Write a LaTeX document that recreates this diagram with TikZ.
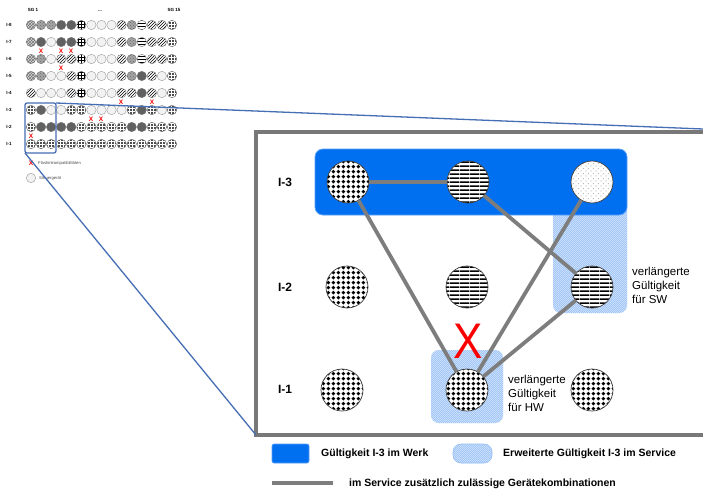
\documentclass[tikz,border=0pt]{standalone}
\usepackage{fontspec}
\setmainfont{Liberation Sans}
\usetikzlibrary{patterns,patterns.meta}

\definecolor{werkblue}{RGB}{0,112,240}
\definecolor{werkedge}{RGB}{90,160,250}
\definecolor{svcblue}{RGB}{150,192,245}
\definecolor{svclight}{RGB}{210,228,252}
\definecolor{linegray}{RGB}{125,125,125}
\definecolor{zoomblue}{RGB}{70,110,180}
\definecolor{framegray}{RGB}{120,120,120}
\definecolor{circedge}{RGB}{60,60,60}
\definecolor{xred}{RGB}{250,0,0}

\tikzdeclarepattern{
  name=bigdots,
  type=uncolored,
  bounding box={(0pt,0pt) and (4.8pt,4.8pt)},
  tile size={(4.8pt,4.8pt)},
  code={\pgfpathcircle{\pgfpoint{2.4pt}{2.4pt}}{1.95pt}\pgfusepath{fill}}
}
\tikzdeclarepattern{
  name=hstripes,
  type=uncolored,
  bounding box={(0pt,0pt) and (10pt,4.2pt)},
  tile size={(10pt,4.2pt)},
  code={\pgfpathrectangle{\pgfpoint{0pt}{0pt}}{\pgfpoint{10pt}{1.8pt}}\pgfusepath{fill}}
}
\tikzdeclarepattern{
  name=finedots,
  type=uncolored,
  bounding box={(0pt,0pt) and (5pt,5pt)},
  tile size={(5pt,5pt)},
  code={\pgfpathcircle{\pgfpoint{1.25pt}{1.25pt}}{0.5pt}\pgfpathcircle{\pgfpoint{3.75pt}{3.75pt}}{0.5pt}\pgfusepath{fill}}
}
\tikzdeclarepattern{
  name=finehatch,
  type=uncolored,
  bounding box={(-0.5pt,-0.5pt) and (2.5pt,2.5pt)},
  tile size={(2pt,2pt)},
  code={\pgfsetlinewidth{0.6pt}\pgfpathmoveto{\pgfpoint{-0.5pt}{2.5pt}}\pgfpathlineto{\pgfpoint{2.5pt}{-0.5pt}}\pgfusepath{stroke}}
}

\tikzset{
  bigc/.style={circle, minimum size=42pt, inner sep=0pt, outer sep=0pt, draw=circedge, line width=0.7pt, preaction={fill=white}},
  dotc/.style={bigc, pattern=bigdots, pattern color=black},
  stripec/.style={bigc, pattern=hstripes, pattern color=black},
  lightc/.style={bigc, pattern=finedots, pattern color=black!75},
  combo/.style={draw=linegray, line width=3.8pt},
  rowlab/.style={font=\bfseries\fontsize{12}{14}\selectfont, inner sep=0pt},
  note/.style={font=\fontsize{11.5}{14}\selectfont, align=left, anchor=west, inner sep=0pt},
  legtext/.style={font=\bfseries\fontsize{10.5}{12}\selectfont, anchor=west, inner sep=0pt},
  werk/.style={fill=werkblue, draw=werkedge, line width=0.8pt, rounded corners=8pt},
  svc/.style={preaction={fill=svcblue}, pattern=finehatch, pattern color=svclight, rounded corners=8pt},
  legbox/.style={rectangle, minimum height=19pt, inner sep=0pt, outer sep=0pt, rounded corners=2pt},
  zoomline/.style={draw=zoomblue, line width=1.3pt},
  bigx/.style={text=xred, font=\fontsize{50}{50}\selectfont, inner sep=0pt, xscale=0.88},
  % small overview diagram
  sc/.style={circle, minimum size=9.4pt, inner sep=0pt, outer sep=0pt, draw=black!55, line width=0.4pt},
  sL/.style={sc, fill=black!5, draw=black!40},
  sD/.style={sc, fill=black!62},
  sG/.style={sc, preaction={fill=black!35}, pattern=crosshatch dots, pattern color=black!60},
  sM/.style={sc, preaction={fill=black!15}, pattern=crosshatch, pattern color=black!55},
  sS/.style={sc, preaction={fill=white}, pattern=north east lines, pattern color=black},
  sH/.style={sc, preaction={fill=white}, pattern=horizontal lines, pattern color=black},
  sP/.style={sc, preaction={fill=white}, pattern=grid, pattern color=black},
  sX/.style={sc, preaction={fill=black!70}, pattern=grid, pattern color=white},
  slab/.style={font=\bfseries\fontsize{4.5}{4.5}\selectfont, inner sep=0pt},
  sx/.style={text=xred, font=\bfseries\fontsize{6.5}{6.5}\selectfont, inner sep=0pt},
  stext/.style={font=\fontsize{4.2}{4.2}\selectfont, inner sep=0pt, anchor=west, text=black!70},
}

\begin{document}
\begin{tikzpicture}[x=1pt, y=-1pt]
\clip (0,0) rectangle (703,492);
\fill[white] (0,0) rectangle (703,492);

% ---------- small overview ----------
\node[slab] (hsg1) at (33,10) {SG 1};
\node[slab] (hdots) at (100,11) {...};
\node[slab] (hsg15) at (174,10) {SG 15};

\node[slab] (l8) at (9,25) {I-8};
\node[slab] (l7) at (9,42) {I-7};
\node[slab] (l6) at (9,59) {I-6};
\node[slab] (l5) at (9,76) {I-5};
\node[slab] (l4) at (9,93) {I-4};
\node[slab] (l3) at (9,110) {I-3};
\node[slab] (l2) at (9,127) {I-2};
\node[slab] (l1) at (9,144) {I-1};

\foreach \p [count=\c] in {M,G,G,D,D,P,L,L,L,S,G,H,S,S,X}
  \node[s\p] (s8-\c) at ({31+(\c-1)*10.07},25) {};
\foreach \p [count=\c] in {M,D,L,D,D,P,L,L,L,S,G,H,S,S,X}
  \node[s\p] (s7-\c) at ({31+(\c-1)*10.07},42) {};
\foreach \p [count=\c] in {M,G,L,S,S,P,L,L,L,S,G,H,S,S,X}
  \node[s\p] (s6-\c) at ({31+(\c-1)*10.07},59) {};
\foreach \p [count=\c] in {M,G,L,L,S,P,L,L,L,S,G,D,S,L,X}
  \node[s\p] (s5-\c) at ({31+(\c-1)*10.07},76) {};
\foreach \p [count=\c] in {S,L,L,L,S,P,L,L,L,S,S,D,S,L,X}
  \node[s\p] (s4-\c) at ({31+(\c-1)*10.07},93) {};
\foreach \p [count=\c] in {X,D,L,L,X,X,L,L,L,L,X,D,X,L,X}
  \node[s\p] (s3-\c) at ({31+(\c-1)*10.07},110) {};
\foreach \p [count=\c] in {X,D,D,D,D,X,X,X,X,X,D,D,X,X,X}
  \node[s\p] (s2-\c) at ({31+(\c-1)*10.07},127) {};
\foreach \p [count=\c] in {X,X,X,X,X,X,X,X,X,X,X,X,X,X,X}
  \node[s\p] (s1-\c) at ({31+(\c-1)*10.07},144) {};

\node[sx] (sx1) at (41,51) {X};
\node[sx] (sx2) at (61,51) {X};
\node[sx] (sx3) at (71,51) {X};
\node[sx] (sx4) at (61,68) {X};
\node[sx] (sx5) at (121,102) {X};
\node[sx] (sx6) at (152,102) {X};
\node[sx] (sx7) at (91,119) {X};
\node[sx] (sx8) at (101,119) {X};
\node[sx] (sx9) at (31,136) {X};

\node[sx] (legx) at (31,163) {X};
\node[stext] (legxt) at (38,163) {Flashinkompatibilitäten};
\node[sL] (legc) at (31,178) {};
\node[stext] (legct) at (39,178) {Steuergerät};

% zoom rectangle and lines
\node[draw=zoomblue, line width=1.3pt, rounded corners=2pt, minimum width=31pt, minimum height=50pt,
      anchor=north west, inner sep=0pt, outer sep=0pt] (zoomrect) at (25,103) {};
\coordinate (zoomend) at (703,129);

% ---------- big frame ----------
\node[draw=framegray, line width=4pt, minimum width=520pt, minimum height=303pt,
      anchor=north west, inner sep=0pt, outer sep=0pt] (frame) at (256,132) {};
\draw[zoomline] (zoomrect.north east) -- (zoomend);
\draw[zoomline] (zoomrect.south west) -- (frame.south west);

% validity regions
\path[svc] (553,200) rectangle (627,313);
\path[svc] (431,350) rectangle (503,423);
\path[werk] (315,149) rectangle (627,215);

% row labels
\node[rowlab] (r3) at (285,182) {I-3};
\node[rowlab] (r2) at (285,287) {I-2};
\node[rowlab] (r1) at (285,389) {I-1};

% circles
\node[dotc] (a3) at (348,182) {};
\node[stripec] (b3) at (468,182) {};
\node[lightc] (c3) at (592,182) {};
\node[dotc] (a2) at (347,287) {};
\node[stripec] (b2) at (467,287) {};
\node[stripec] (c2) at (592,287) {};
\node[dotc] (a1) at (342,390) {};
\node[dotc] (b1) at (467,390) {};
\node[dotc] (c1) at (592,390) {};

% permitted combinations
\draw[combo] (a3) -- (b3);
\draw[combo] (a3) -- (b1);
\draw[combo] (b3) -- (c2);
\draw[combo] (c3) -- (b1);
\draw[combo] (c2) -- (b1);

\node[bigx] (cross) at (468,341) {X};

\node[note] (swnote) at (632,285) {verlängerte\\Gültigkeit\\für SW};
\node[note] (hwnote) at (508,393) {verlängerte\\Gültigkeit\\für HW};

% ---------- legend ----------
\node[legbox, fill=werkblue, draw=werkedge, line width=0.6pt, minimum width=37pt] (legwerk) at (290.5,453.5) {};
\node[legtext] (legwerkt) at (321,454) {Gültigkeit I-3 im Werk};
\node[legbox, svc, draw=svcblue, line width=0.6pt, minimum width=39pt] (legsvc) at (472.5,453.5) {};
\node[legtext] (legsvct) at (503,454) {Erweiterte Gültigkeit I-3 im Service};
\coordinate (lg1) at (272,483);
\coordinate (lg2) at (333,483);
\draw[combo] (lg1) -- (lg2);
\node[legtext] (legcombot) at (349,484) {im Service zusätzlich zulässige Gerätekombinationen};
\end{tikzpicture}
\end{document}
